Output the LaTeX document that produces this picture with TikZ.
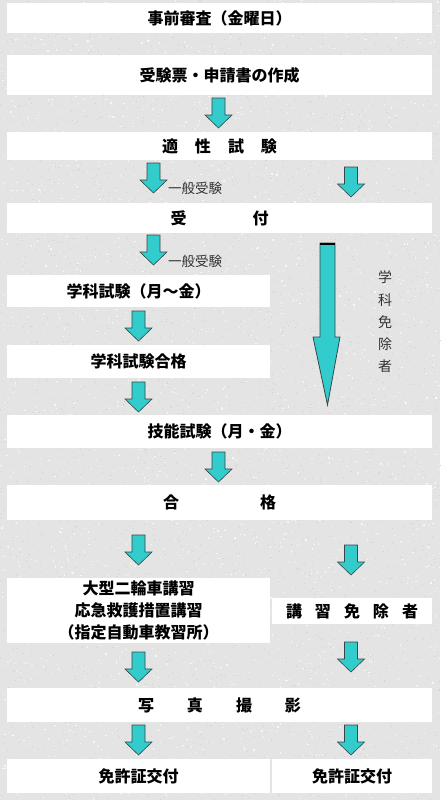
\documentclass[tikz,border=0pt]{standalone}
\usepackage{fontspec}
\newfontfamily\jp{Noto Sans CJK JP}
\definecolor{bg}{RGB}{228,228,228}
\definecolor{speck}{RGB}{210,210,210}
\definecolor{cy}{RGB}{51,204,204}
\definecolor{ol}{RGB}{55,70,70}
\begin{document}
\begin{tikzpicture}[x=1pt,y=-1pt,
  box/.style={fill=white,draw=none,inner sep=0pt,align=center,
    font=\jp\bfseries\fontsize{16}{22}\selectfont},
  wide/.style={box,minimum width=425pt},
  leftbox/.style={box,minimum width=263pt},
  rightbox/.style={box,minimum width=160pt},
  lbl/.style={inner sep=0pt,text=black!80,font=\jp\fontsize{13.5}{22}\selectfont,align=center},
  barrow/.pic={\filldraw[fill=cy,draw=ol,line width=0.6pt,line join=miter]
    (-6.5,0) -- (6.5,0) -- (6.5,17) -- (13.5,17) -- (0,30) -- (-13.5,17) -- (-6.5,17) -- cycle;}
]
\fill[bg] (0,0) rectangle (440,800);
\useasboundingbox (0,0) rectangle (440,800);
% paper texture
\pgfmathsetseed{7}
\foreach \i in {1,...,3000} {
  \fill[speck] ({rnd*440},{rnd*800}) rectangle +(1,1);
  \fill[white!97!black] ({rnd*440},{rnd*800}) rectangle +(1.2,1.2);
}

% boxes
\node[wide,minimum height=30pt] (b1) at (219.5,18) {事前審査（金曜日）};
\node[wide,minimum height=40pt] (b2) at (219.5,75) {受験票・申請書の作成};
\node[wide,minimum height=28pt] (b3) at (219.5,146) {適\hspace{17pt}性\hspace{17pt}試\hspace{17pt}験};
\node[wide,minimum height=30pt] (b4) at (219.5,218) {受\hspace{66pt}付};
\node[leftbox,minimum height=32pt] (b5) at (138.5,291) {学科試験（月～金）};
\node[leftbox,minimum height=33pt] (b6) at (138.5,361.5) {学科試験合格};
\node[wide,minimum height=33pt] (b7) at (219.5,431.5) {技能試験（月・金）};
\node[wide,minimum height=35pt] (b8) at (219.5,502.5) {合\hspace{81pt}格};
\node[leftbox,minimum height=65pt] (b9) at (138.5,610.5) {大型二輪車講習\\応急救護措置講習\\（指定自動車教習所）};
\node[rightbox,minimum height=26pt] (b10) at (352,611) {講\hspace{13pt}習\hspace{13pt}免\hspace{13pt}除\hspace{13pt}者};
\node[wide,minimum height=34pt] (b11) at (219.5,705) {写\hspace{33pt}真\hspace{33pt}撮\hspace{33pt}影};
\node[leftbox,minimum height=34pt] (b12) at (138.5,776) {免許証交付};
\node[rightbox,minimum height=34pt] (b13) at (352,776) {免許証交付};

% labels
\node[lbl,anchor=west] (l1) at (168,188) {一般受験};
\node[lbl,anchor=west] (l2) at (168,261) {一般受験};
\node[lbl,font=\jp\fontsize{14}{22.2}\selectfont] (l3) at (385,322) {学\\科\\免\\除\\者};

% block arrows
\pic at (218.5,98) {barrow};
\pic at (153.5,163) {barrow};
\pic at (351,167) {barrow};
\pic at (153.5,235) {barrow};
\pic at (138.5,311) {barrow};
\pic at (138.5,382) {barrow};
\pic at (218.5,452) {barrow};
\pic at (138.5,535) {barrow};
\pic at (351,545) {barrow};
\pic at (138.5,652) {barrow};
\pic at (351,642) {barrow};
\pic at (138.5,725) {barrow};
\pic at (351,725) {barrow};

% long arrow (学科免除者)
\filldraw[fill=cy,draw=ol,line width=0.8pt,line join=miter]
  (320,243) -- (335,243) -- (335,337) -- (340,337) -- (327.5,405) -- (313,337) -- (320,337) -- cycle;
\draw[black,line width=2.5pt] (320,244) -- (335,244);
\end{tikzpicture}
\end{document}
